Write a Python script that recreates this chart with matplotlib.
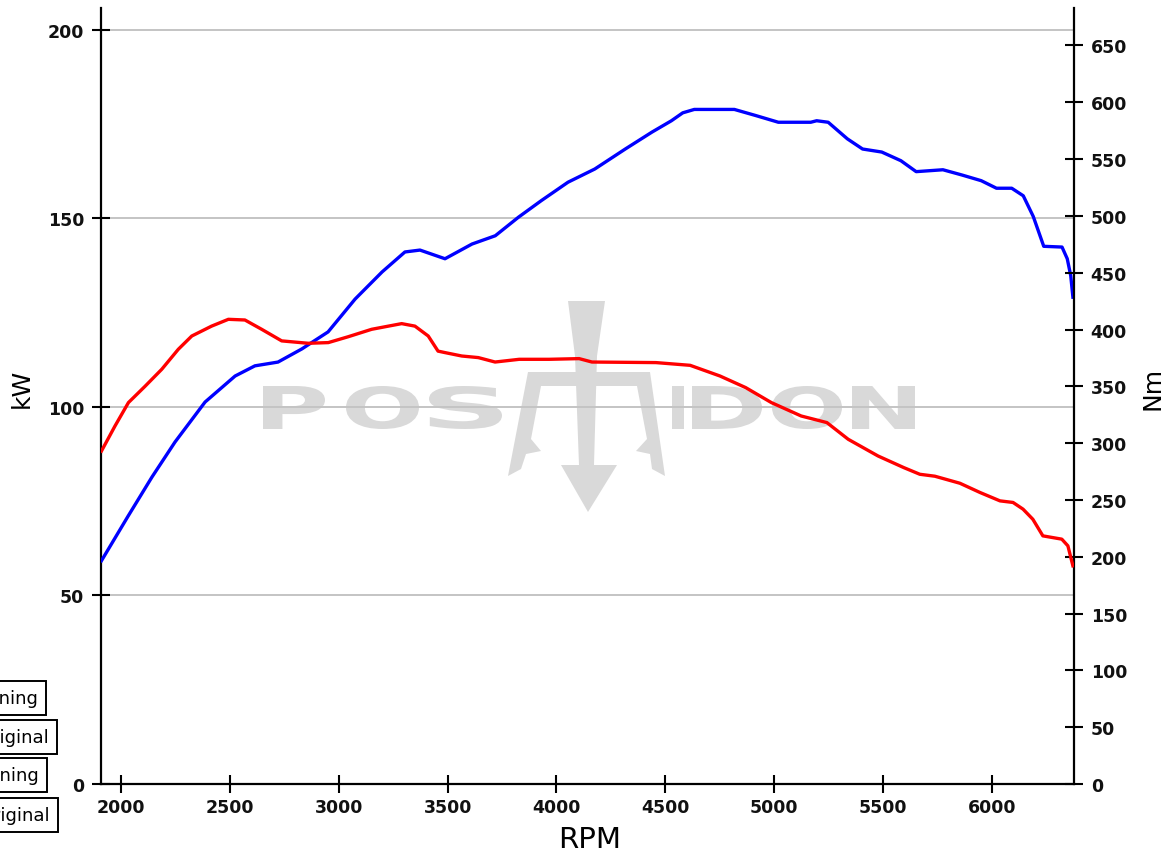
import matplotlib
matplotlib.use("Agg")
import matplotlib.pyplot as plt
from matplotlib.textpath import TextPath
from matplotlib.patches import PathPatch, Polygon
from matplotlib.font_manager import FontProperties
from matplotlib.transforms import Affine2D

# ---------------- data ----------------
rpm_kw = [1910, 2032, 2142, 2248, 2386, 2524, 2615, 2721, 2831, 2951, 3075, 3199,
          3304, 3373, 3488, 3612, 3719, 3825, 3930, 4053, 4176, 4316, 4439, 4528,
          4580, 4633, 4817, 4914, 5019, 5168, 5195, 5248, 5336, 5406, 5494, 5582,
          5652, 5775, 5863, 5951, 6021, 6091, 6144, 6190, 6238, 6322, 6346, 6362, 6372]
kw_tuning = [59.2, 71.0, 81.4, 90.7, 101.3, 108.2, 110.9, 111.9, 115.4, 119.9, 128.6, 135.8,
             141.1, 141.6, 139.3, 143.2, 145.4, 150.3, 154.7, 159.6, 163.1, 168.4, 172.9, 175.9,
             178.0, 178.9, 178.9, 177.3, 175.5, 175.5, 175.9, 175.5, 171.1, 168.4, 167.6, 165.3,
             162.4, 162.9, 161.5, 160.0, 158.0, 158.0, 156.0, 150.5, 142.6, 142.4, 139.3, 134.8, 129.1]

rpm_nm = [1910, 1972, 2034, 2110, 2187, 2263, 2325, 2416, 2493, 2569, 2646, 2738,
          2860, 2952, 3044, 3151, 3228, 3289, 3350, 3411, 3456, 3488, 3565, 3641,
          3718, 3829, 3966, 4104, 4163, 4457, 4614, 4751, 4869, 4987, 5124, 5242,
          5340, 5477, 5595, 5669, 5738, 5853, 5945, 6037, 6097, 6143, 6188, 6234,
          6321, 6349, 6372]
nm_tuning = [293, 315, 335.7, 350, 365, 382.6, 394.3, 403, 409, 408.4, 400.2, 390,
             387.9, 388.5, 393.7, 400.2, 403, 405.2, 403, 394.3, 381, 379.7, 376.7, 375.3,
             371.4, 373.8, 373.8, 374.4, 371.4, 370.9, 368.5, 359.1, 348.9, 335.7, 323.9, 318.1,
             303.4, 288.7, 278.5, 272.6, 270.9, 264.7, 256.6, 249.2, 247.8, 241.9, 233, 218.4,
             215.5, 209.6, 192]

x_ticks = [2000, 2500, 3000, 3500, 4000, 4500, 5000, 5500, 6000]
kw_ticks = [0, 50, 100, 150, 200]
nm_ticks = [0, 50, 100, 150, 200, 250, 300, 350, 400, 450, 500, 550, 600, 650]
legend_labels = ["kW Tuning", "kW Original", "Nm Tuning", "Nm Original"]

# ---------------- figure ----------------
W, H = 1170, 854
fig = plt.figure(figsize=(W / 100, H / 100), dpi=100)
fig.patch.set_facecolor("white")


def fx(px):
    return px / W


def fy(py):
    return 1 - py / H


# watermark layer (pixel coordinates, y down)
wm = fig.add_axes([0, 0, 1, 1], zorder=0)
wm.set_xlim(0, W)
wm.set_ylim(H, 0)
wm.axis("off")
WMC = "#d9d9d9"
fp = FontProperties(family="DejaVu Sans", weight="bold")


def letter(ch, x0, x1, ytop, ybot):
    tp = TextPath((0, 0), ch, size=100, prop=fp)
    bb = tp.get_extents()
    tr = (Affine2D().translate(-bb.x0, -bb.y0)
          .scale((x1 - x0) / bb.width, -(ybot - ytop) / bb.height)
          .translate(x0, ybot))
    wm.add_patch(PathPatch(tr.transform_path(tp), facecolor=WMC, lw=0))


for ch, a, b in [("P", 263, 325), ("O", 346, 419), ("S", 429, 502),
                 ("I", 672, 684), ("D", 692, 762), ("O", 772, 842), ("N", 852, 915)]:
    letter(ch, a, b, 387, 430)

# trident
wm.add_patch(Polygon([(568, 302), (605, 302), (597, 357), (594, 466), (579, 466), (575, 357)],
                     closed=True, facecolor=WMC, lw=0))
wm.add_patch(Polygon([(561, 466), (617, 466), (588, 513)], closed=True, facecolor=WMC, lw=0))
wm.add_patch(Polygon([(508, 477), (528, 373), (650, 373), (665, 477), (652, 470), (650, 455),
                      (636, 452), (647, 440), (637, 387), (541, 387), (531, 440), (541, 452),
                      (526, 455), (521, 470)],
                     closed=True, facecolor=WMC, lw=0))

# main axes
ax = fig.add_axes([fx(101), fy(785), (1074 - 101) / W, (785 - 9) / H], zorder=1)
ax.patch.set_alpha(0)
ax2 = ax.twinx()

ax.plot(rpm_kw, kw_tuning, color="#0000ff", lw=2.4, zorder=3, solid_joinstyle="round")
ax2.plot(rpm_nm, nm_tuning, color="#ff0000", lw=2.4, zorder=3, solid_joinstyle="round")

ax.set_xlim(1908, 6377)
ax.set_ylim(0, 205.8)
ax2.set_ylim(0, 683)

tfont = dict(fontsize=12.5, fontweight="bold", family="DejaVu Sans", color="#111111")
ax.set_xticks(x_ticks, [str(v) for v in x_ticks], **tfont)
ax.set_yticks(kw_ticks, [str(v) for v in kw_ticks], **tfont)
ax2.set_yticks(nm_ticks, [str(v) for v in nm_ticks], **tfont)

ax.grid(axis="y", color="#c4c4c4", lw=1.4)
ax.set_axisbelow(True)

for s in ["top", "right"]:
    ax.spines[s].set_visible(False)
for s in ["top", "left", "bottom"]:
    ax2.spines[s].set_visible(False)
for sp in [ax.spines["left"], ax.spines["bottom"], ax2.spines["right"]]:
    sp.set_linewidth(1.6)
    sp.set_color("black")

ax.tick_params(axis="y", direction="inout", length=13, width=1.5, pad=5.5)
ax.tick_params(axis="x", direction="inout", length=13, width=1.5, pad=3.5)
ax2.tick_params(axis="y", direction="inout", length=13, width=1.5, pad=5.5)

# axis titles
fig.text(fx(590), fy(840), "RPM", fontsize=21, ha="center", va="center", family="DejaVu Sans")
fig.text(fx(22), fy(388), "kW", fontsize=18, ha="center", va="center", rotation=90, family="DejaVu Sans")
fig.text(fx(1152), fy(388), "Nm", fontsize=18, ha="center", va="center", rotation=90, family="DejaVu Sans")

# legend boxes (cut off at left figure edge, as in the reference)
for lab, xr, yc in zip(legend_labels, [38, 49, 39, 50], [699, 738, 776, 816]):
    fig.text(fx(xr), fy(yc), lab, fontsize=13, ha="right", va="center", family="DejaVu Sans",
             bbox=dict(boxstyle="square,pad=0.42", facecolor="white", edgecolor="black", lw=1.4))

fig.savefig("out.png", dpi=100)
